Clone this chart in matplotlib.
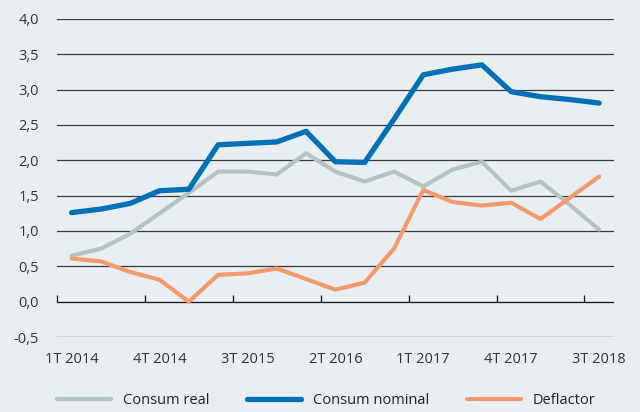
import matplotlib
matplotlib.use('Agg')
import matplotlib.pyplot as plt
import numpy as np

plt.rcParams['font.family'] = ['Open Sans', 'DejaVu Sans']

## -- quarters 1T 2014 ... 3T 2018
quarters = ['%dT %d' % (q, y) for y in range(2014, 2019) for q in range(1, 5)][:19]
consum_real = [0.65, 0.75, 0.96, 1.25, 1.54, 1.84, 1.84, 1.80, 2.10, 1.84,
               1.70, 1.84, 1.63, 1.87, 1.98, 1.57, 1.70, 1.37, 1.02]
consum_nominal = [1.26, 1.31, 1.39, 1.57, 1.59, 2.22, 2.24, 2.26, 2.41, 1.98,
                  1.97, 2.58, 3.21, 3.29, 3.35, 2.97, 2.90, 2.86, 2.81]
deflactor = [0.61, 0.57, 0.42, 0.31, 0.00, 0.38, 0.40, 0.47, 0.32, 0.17,
             0.27, 0.75, 1.58, 1.41, 1.36, 1.40, 1.17, 1.47, 1.77]
yticks = np.arange(-0.5, 4.01, 0.5)

bg = '#e9eef3'
fig = plt.figure(figsize=(6.4, 4.12), dpi=100, facecolor=bg)
ax = fig.add_axes([0.089, 0.182, 0.870, 0.772], facecolor=bg)

x = np.arange(len(quarters))
ax.plot(x, consum_real, color='#b6c1c3', lw=3.0, label='Consum real',
        solid_capstyle='round', zorder=3)
ax.plot(x, consum_nominal, color='#0070b8', lw=3.8, label='Consum nominal',
        solid_capstyle='round', zorder=4)
ax.plot(x, deflactor, color='#f39a6a', lw=3.0, label='Deflactor',
        solid_capstyle='round', zorder=3)

ax.set_xlim(-0.5, len(quarters) - 0.5)
ax.set_ylim(-0.5, 4.0)
ax.set_yticks(yticks)
ax.set_yticklabels([('%.1f' % v).replace('.', ',') for v in yticks])
for v in yticks:
    ax.axhline(v, color='#3a3a3a' if v != 0 else '#111111', lw=0.9, zorder=1)

ax.set_xticks(x[::3])
ax.set_xticklabels(quarters[::3])
ax.tick_params(axis='both', length=0, labelsize=10.5, colors='#333333')
ax.tick_params(axis='y', pad=13)
ax.tick_params(axis='x', pad=11)
for s in ax.spines.values():
    s.set_visible(False)

## -- tick marks on the zero line at category edges
sec = ax.secondary_xaxis(0.5 / 4.5)
sec.set_xticks(np.arange(-0.5, len(quarters) - 0.5, 3))
sec.tick_params(direction='in', length=5, width=0.9, color='#111111', labelbottom=False)
sec.spines['bottom'].set_visible(False)

fig.legend(loc='lower center', bbox_to_anchor=(0.51, -0.022), ncol=3, frameon=False,
           handlelength=3.7, columnspacing=2.6, handletextpad=0.8, fontsize=10.5,
           labelcolor='#222222')

fig.savefig('out.png', dpi=100, facecolor=bg)
